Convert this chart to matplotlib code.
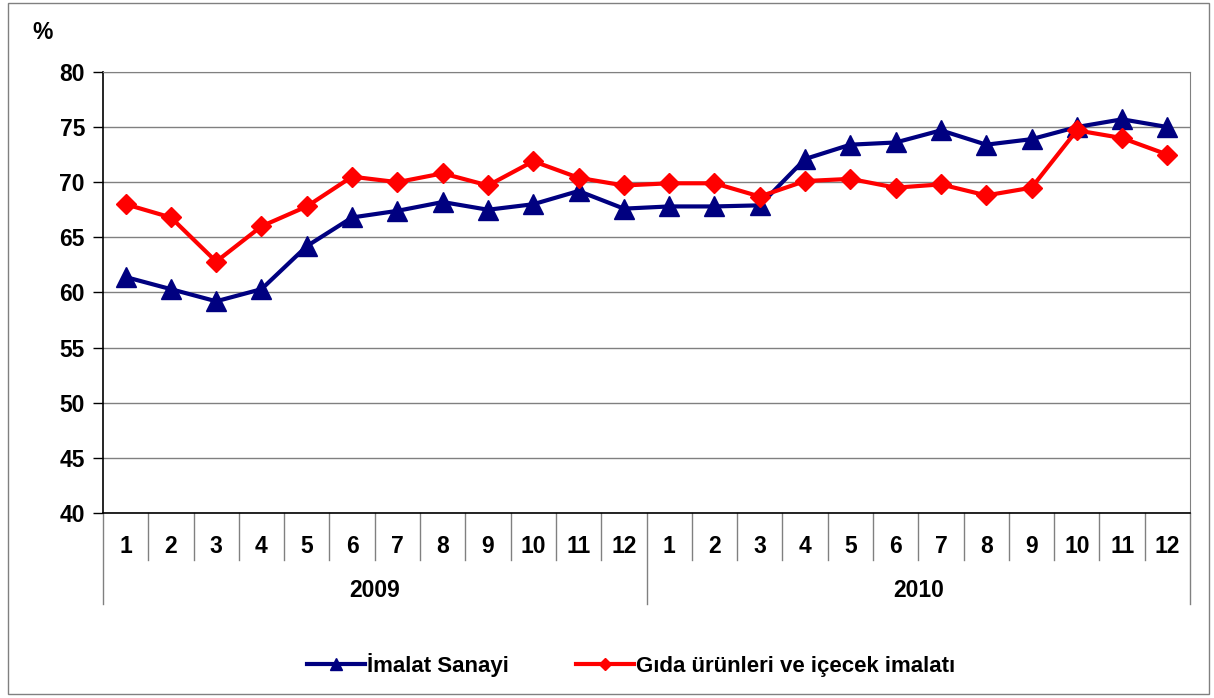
import matplotlib
matplotlib.use("Agg")
import matplotlib.pyplot as plt
from matplotlib.patches import Rectangle

months = [str(m) for m in range(1, 13)] * 2
years = ["2009", "2010"]
imalat = [61.4, 60.3, 59.2, 60.3, 64.2, 66.8, 67.4, 68.2, 67.5, 68.0, 69.2, 67.6,
          67.8, 67.8, 67.9, 72.1, 73.4, 73.6, 74.7, 73.4, 73.9, 75.0, 75.7, 75.0]
gida = [68.0, 66.8, 62.8, 66.0, 67.8, 70.5, 70.0, 70.8, 69.7, 71.9, 70.4, 69.7,
        69.9, 69.9, 68.7, 70.1, 70.3, 69.5, 69.8, 68.8, 69.5, 74.7, 74.0, 72.5]
series_names = ["İmalat Sanayi", "Gıda ürünleri ve içecek imalatı"]

plt.rcParams['font.family'] = ['Liberation Sans', 'DejaVu Sans']
FS = 16.5

fig = plt.figure(figsize=(12.14, 6.98), dpi=100)
fig.patches.append(Rectangle((0.007, 0.006), 0.989, 0.99, transform=fig.transFigure,
                             fill=False, edgecolor='#808080', linewidth=1))
ax = fig.add_axes([0.0848, 0.265, 0.8955, 0.632])

x = list(range(len(months)))
ax.plot(x, imalat, color='#000080', lw=3, marker='^', markersize=14, label=series_names[0], zorder=3)
ax.plot(x, gida, color='#FF0000', lw=3, marker='D', markersize=10.5, label=series_names[1], zorder=3)

ax.set_xlim(-0.5, len(months) - 0.5)
ax.set_ylim(40, 80)
ax.set_yticks(range(40, 81, 5))
ax.set_yticklabels([str(v) for v in range(40, 81, 5)], fontsize=FS, fontweight='bold')
ax.yaxis.grid(True, color='#808080', lw=1)
ax.set_axisbelow(True)
ax.tick_params(axis='y', direction='out', length=7, width=1, color='black', pad=6)
ax.set_xticks([])
for s in ['top', 'right']:
    ax.spines[s].set_color('#808080')
for s in ['left', 'bottom']:
    ax.spines[s].set_color('black')
    ax.spines[s].set_linewidth(1.2)

trans = ax.get_xaxis_transform()
for i, m in enumerate(months):
    ax.text(i, -0.075, m, transform=trans, ha='center', va='center', fontsize=FS, fontweight='bold')
for b in range(len(months) + 1):
    if b % 12 == 0:
        ax.plot([b - 0.5, b - 0.5], [0, -0.207], transform=trans, color='#808080', lw=1, clip_on=False)
    else:
        ax.plot([b - 0.5, b - 0.5], [0, -0.107], transform=trans, color='#808080', lw=1, clip_on=False)
for j, y in enumerate(years):
    ax.text(j * 12 + 5.5, -0.175, y, transform=trans, ha='center', va='center', fontsize=FS, fontweight='bold')

fig.text(0.035, 0.953, "%", fontsize=FS, fontweight='bold', ha='center', va='center')

leg = fig.legend(loc='center', bbox_to_anchor=(0.52, 0.047), ncol=2, frameon=False,
                 prop={'size': 16, 'weight': 'bold'}, handlelength=2.6, columnspacing=3.0,
                 handletextpad=0.1, markerscale=0.6)

fig.savefig("out.png", dpi=100)
